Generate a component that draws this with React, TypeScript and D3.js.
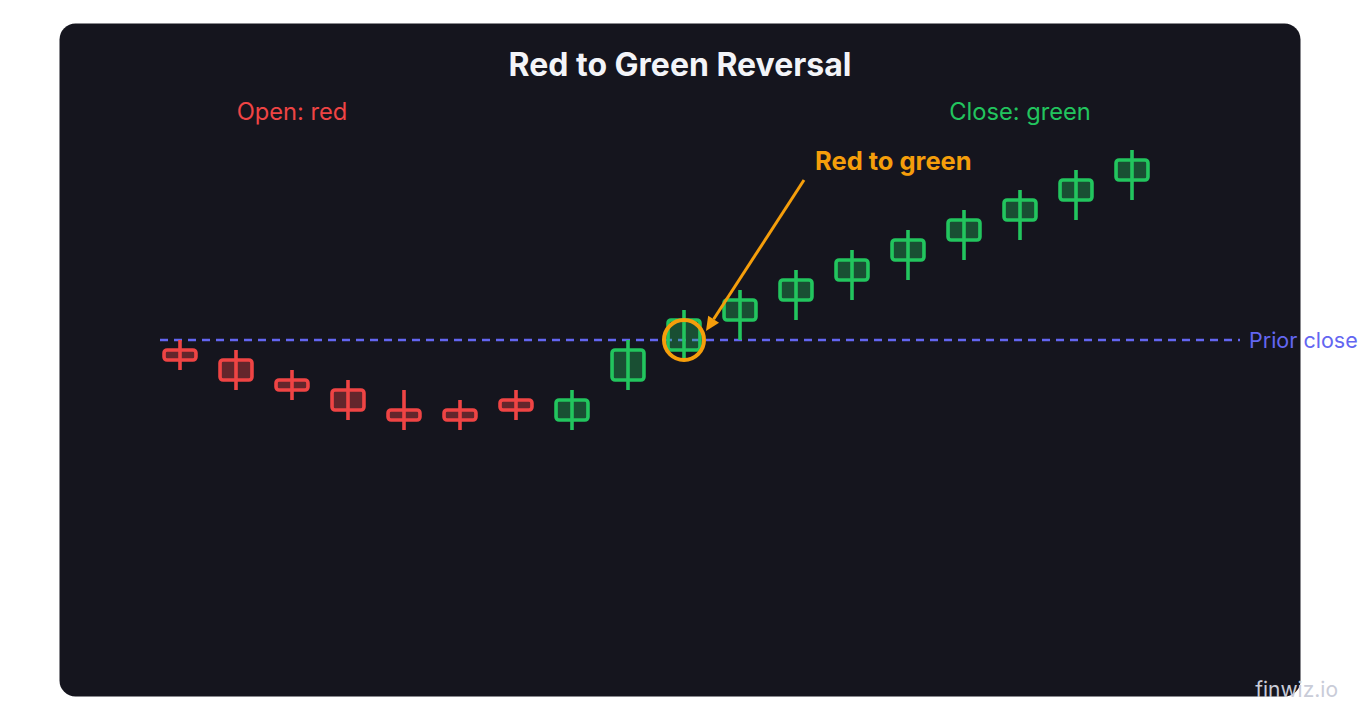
import React, { useEffect, useRef } from 'react';
import * as d3 from 'd3';

// candle values (price units)
const opens = [99, 98, 96, 95, 93, 93, 94, 92, 96, 99, 102, 104, 106, 108, 110, 112, 114, 116];
const closes = [98, 96, 95, 93, 92, 92, 93, 94, 99, 102, 104, 106, 108, 110, 112, 114, 116, 118];
const highs = [100, 99, 97, 96, 95, 94, 95, 95, 100, 103, 105, 107, 109, 111, 113, 115, 117, 119];
const lows = [97, 95, 94, 92, 91, 91, 92, 91, 95, 98, 100, 102, 104, 106, 108, 110, 112, 114];

const priorClose = 100;
const reversalIndex = 9;

const RED = '#ef4444';
const GREEN = '#22c55e';
const ORANGE = '#f59e0b';
const INDIGO = '#6366f1';

const App: React.FC = () => {
  const svgRef = useRef<SVGSVGElement>(null);

  useEffect(() => {
    if (!svgRef.current) return;
    const svg = d3.select(svgRef.current);
    svg.selectAll('*').remove();

    // panel
    svg.append('rect')
      .attr('x', 59.5).attr('y', 23.5)
      .attr('width', 1241).attr('height', 673)
      .attr('rx', 16)
      .attr('fill', '#15151e');

    const font = 'Inter, "Noto Sans", sans-serif';

    svg.append('text')
      .attr('x', 680).attr('y', 76)
      .attr('text-anchor', 'middle')
      .attr('fill', '#f3f4f8')
      .attr('font-family', font)
      .attr('font-size', 32)
      .attr('font-weight', 700)
      .text('Red to Green Reversal');

    const data = opens.map((o, i) => ({ i, open: o, close: closes[i], high: highs[i], low: lows[i] }));

    const x = d3.scaleBand<number>()
      .domain(data.map(d => d.i))
      .range([152, 1160]);

    const y = d3.scaleLinear()
      .domain([70, 125])
      .range([640, 90]);

    const cx = (i: number) => (x(i) ?? 0) + x.bandwidth() / 2;
    const bodyW = x.bandwidth() * 0.57;

    svg.append('text')
      .attr('x', cx(2)).attr('y', 120)
      .attr('text-anchor', 'middle')
      .attr('fill', RED)
      .attr('font-family', font)
      .attr('font-size', 23.7)
      .text('Open: red');

    svg.append('text')
      .attr('x', cx(15)).attr('y', 120)
      .attr('text-anchor', 'middle')
      .attr('fill', GREEN)
      .attr('font-family', font)
      .attr('font-size', 23.7)
      .text('Close: green');

    // prior close line
    svg.append('line')
      .attr('x1', 160).attr('x2', 1240)
      .attr('y1', y(priorClose)).attr('y2', y(priorClose))
      .attr('stroke', INDIGO)
      .attr('stroke-width', 2.5)
      .attr('stroke-dasharray', '8 6');

    svg.append('text')
      .attr('x', 1249).attr('y', y(priorClose) + 8)
      .attr('fill', INDIGO)
      .attr('font-family', font)
      .attr('font-size', 21.5)
      .text('Prior close');

    const candles = svg.append('g')
      .selectAll('g')
      .data(data)
      .join('g');

    candles.append('rect')
      .attr('x', d => cx(d.i) - bodyW / 2)
      .attr('y', d => y(Math.max(d.open, d.close)))
      .attr('width', bodyW)
      .attr('height', d => Math.abs(y(d.open) - y(d.close)))
      .attr('rx', 3)
      .attr('fill', d => d.close >= d.open ? GREEN : RED)
      .attr('fill-opacity', d => d.close >= d.open ? 0.33 : 0.36)
      .attr('stroke', d => d.close >= d.open ? GREEN : RED)
      .attr('stroke-width', 3.6);

    candles.append('line')
      .attr('x1', d => cx(d.i)).attr('x2', d => cx(d.i))
      .attr('y1', d => y(d.high)).attr('y2', d => y(d.low))
      .attr('stroke', d => d.close >= d.open ? GREEN : RED)
      .attr('stroke-width', 3.6);

    // reversal marker
    svg.append('circle')
      .attr('cx', cx(reversalIndex))
      .attr('cy', y(priorClose))
      .attr('r', 20)
      .attr('fill', 'none')
      .attr('stroke', ORANGE)
      .attr('stroke-width', 4);

    const start: [number, number] = [804, 180];
    const tip: [number, number] = [706, 331];
    const ang = Math.atan2(tip[1] - start[1], tip[0] - start[0]);
    const headLen = 14;
    const headW = 6.5;
    const base: [number, number] = [tip[0] - headLen * Math.cos(ang), tip[1] - headLen * Math.sin(ang)];

    svg.append('line')
      .attr('x1', start[0]).attr('y1', start[1])
      .attr('x2', base[0]).attr('y2', base[1])
      .attr('stroke', ORANGE)
      .attr('stroke-width', 3);

    svg.append('path')
      .attr('d', d3.line()([
        tip,
        [base[0] + headW * Math.sin(ang), base[1] - headW * Math.cos(ang)],
        [base[0] - headW * Math.sin(ang), base[1] + headW * Math.cos(ang)],
      ]) + 'Z')
      .attr('fill', ORANGE);

    svg.append('text')
      .attr('x', 815).attr('y', 170)
      .attr('fill', ORANGE)
      .attr('font-family', font)
      .attr('font-size', 25.5)
      .attr('font-weight', 700)
      .text('Red to green');

    svg.append('text')
      .attr('x', 1338).attr('y', 697)
      .attr('text-anchor', 'end')
      .attr('fill', '#c9ccd8')
      .attr('font-family', font)
      .attr('font-size', 21)
      .text('finwiz.io');
  }, []);

  return (
    <svg
      ref={svgRef}
      width={1360}
      height={720}
      style={{ position: 'absolute', left: 0, top: 0, background: '#ffffff' }}
    />
  );
};

export default App;
